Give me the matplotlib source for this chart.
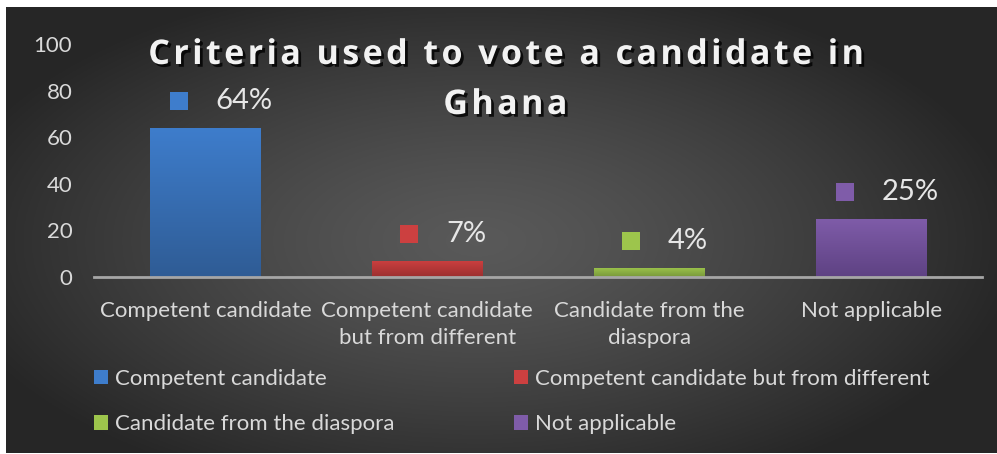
import numpy as np
import matplotlib.pyplot as plt
from matplotlib.patches import Rectangle, Patch
from matplotlib.offsetbox import DrawingArea, AnnotationBbox
import matplotlib.patheffects as pe

# chart data
categories = ['Competent candidate', 'Competent candidate\nbut from different',
              'Candidate from the\ndiaspora', 'Not applicable']
legend_labels = ['Competent candidate', 'Competent candidate but from different',
                 'Candidate from the diaspora', 'Not applicable']
values = [64, 7, 4, 25]
yticks = [0, 20, 40, 60, 80, 100]
title_lines = ['Criteria used to vote a candidate in', 'Ghana']

top_colors = ['#3e7dcc', '#cc4040', '#9dc54c', '#7f5ca9']
bottom_colors = ['#2f5c95', '#9c2f2f', '#78983a', '#5e4283']

plt.rcParams['font.family'] = ['Lato', 'DejaVu Sans']
txt_color = '#d9d9d9'

fig = plt.figure(figsize=(9.97, 4.54), dpi=100)
fig.patch.set_facecolor('white')

# dark radial gradient background
bg = fig.add_axes([6 / 997, 1 / 454, 991 / 997, 446 / 454])
bg.set_axis_off()
gx, gy = np.meshgrid(np.linspace(-1, 1, 500), np.linspace(-1, 1, 250))
r = np.sqrt(((gx + 0.05) / 1.0) ** 2 + ((gy - 0.05) / 1.1) ** 2)
shade = 0.35 - 0.2 * np.clip(r / 1.1, 0, 1) ** 1.3
bg.imshow(np.dstack([shade] * 3), aspect='auto', extent=[0, 1, 0, 1])

ax = fig.add_axes([94.5 / 997, 177 / 454, 887.5 / 997, 233 / 454])
ax.set_facecolor('none')
x = np.arange(len(values))
bars = ax.bar(x, values, width=0.5, color=top_colors, zorder=2)

# vertical gradient inside each bar
for b, c1, c2 in zip(bars, top_colors, bottom_colors):
    c1 = np.array(plt.matplotlib.colors.to_rgb(c1))
    c2 = np.array(plt.matplotlib.colors.to_rgb(c2))
    t = np.linspace(0, 1, 100)[:, None, None]
    grad = c1 * (1 - t) + c2 * t
    im = ax.imshow(grad, aspect='auto', zorder=3,
                   extent=[b.get_x(), b.get_x() + b.get_width(), 0, b.get_height()])
    im.set_clip_path(b)

ax.set_xlim(-0.5, len(values) - 0.5)
ax.set_ylim(0, 100)
ax.set_yticks(yticks)
ax.set_xticks(x)
ax.set_xticklabels(categories, fontsize=16, color=txt_color, linespacing=1.45)
ax.tick_params(axis='y', length=0, pad=16, labelsize=16, labelcolor=txt_color)
ax.tick_params(axis='x', length=0, pad=17)
for s in ['top', 'right', 'left']:
    ax.spines[s].set_visible(False)
ax.spines['bottom'].set_color('#a6a6a6')
ax.spines['bottom'].set_linewidth(2)
ax.spines['bottom'].set_zorder(4)

# data labels: colored square + percentage
for i, (v, c) in enumerate(zip(values, top_colors)):
    t = ax.annotate(f'{v}%', xy=(i, v), xytext=(28, 19.5), textcoords='offset points',
                    ha='center', va='center', fontsize=21, color='#e6e6e6')
    da = DrawingArea(13, 13, 0, 0)
    da.add_artist(Rectangle((0, 0), 13, 13, fc=c, ec='none'))
    ab = AnnotationBbox(da, (0, 0.5), xycoords=t, xybox=(-20, 0),
                        boxcoords='offset points', frameon=False,
                        box_alignment=(1, 0.5), pad=0)
    ax.add_artist(ab)

# title, letter-spaced with hair spaces
shadow = [pe.withSimplePatchShadow(offset=(2, -2), shadow_rgbFace='black', alpha=0.8)]
for line, ypix in zip(title_lines, [55, 105]):
    fig.text(505 / 997, 1 - ypix / 454, '\u200a'.join(line), ha='center', va='center',
             fontsize=24.5, fontweight='bold', family=['Open Sans', 'DejaVu Sans'],
             color='#f2f2f2', path_effects=shadow)

# legend filled row by row
order = [0, 2, 1, 3]
handles = [Patch(facecolor=top_colors[k], edgecolor='none') for k in order]
leg = fig.legend(handles, [legend_labels[k] for k in order], ncol=2, loc='upper left',
                 bbox_to_anchor=(94 / 997, 1 - 369 / 454), frameon=False,
                 borderpad=0, borderaxespad=0,
                 fontsize=16, labelcolor=txt_color, handlelength=0.63,
                 handleheight=0.63, handletextpad=0.3, columnspacing=5.4,
                 labelspacing=1.13)

fig.savefig('out.png', dpi=100)
